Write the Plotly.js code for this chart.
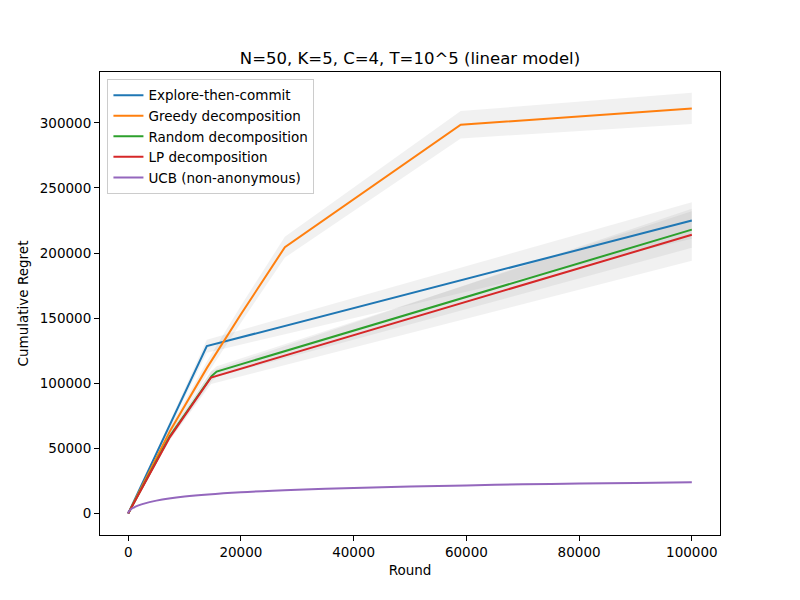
<!DOCTYPE html>
<html>
<head>
<meta charset="utf-8">
<script src="https://cdn.plot.ly/plotly-3.0.1.min.js"></script>
<style>
  body { margin: 0; background: #fff; }
  #chart { width: 800px; height: 600px; }
</style>
</head>
<body>
<div id="chart"></div>
<script>
// series: rounds, mean regret, half-width of the grey band
const etcX = [0, 13950, 100000];
const etcY = [0, 128500, 225000];
const etcBand = [0, 5000, 14000];

const greedyX = [0, 7500, 14000, 20000, 27800, 59000, 100000];
const greedyY = [0, 64000, 112000, 153000, 204500, 298500, 311000];
const greedyBand = [0, 3000, 5000, 6500, 8000, 10500, 12000];

const randomX = [0, 7400, 14800, 15700, 100000];
const randomY = [0, 59500, 105500, 109000, 218000];
const randomBand = [0, 2500, 4000, 4000, 14000];

const lpX = [0, 7400, 14700, 100000];
const lpY = [0, 58700, 104400, 214000];
const lpBand = [0, 2500, 5000, 20000];

const ucbX = [0, 100, 500, 1000, 1500, 2500, 5000, 10000, 20000, 30000, 40000, 50000, 60000, 70000, 80000, 90000, 100000];
const ucbY = [0, 1500, 3300, 4600, 5700, 7200, 9900, 13000, 16300, 18200, 19600, 20700, 21600, 22400, 23000, 23500, 24000];
const ucbBand = [0, 80, 150, 200, 220, 250, 300, 350, 400, 400, 450, 450, 500, 500, 500, 500, 500];

const names = ["Explore-then-commit", "Greedy decomposition", "Random decomposition",
               "LP decomposition", "UCB (non-anonymous)"];
const colors = ["#1f77b4", "#ff7f0e", "#2ca02c", "#d62728", "#9467bd"];
const series = [
  [etcX, etcY, etcBand],
  [greedyX, greedyY, greedyBand],
  [randomX, randomY, randomBand],
  [lpX, lpY, lpBand],
  [ucbX, ucbY, ucbBand],
];

const traces = [];
// grey bands first
series.forEach(([xs, ys, hw]) => {
  const upper = ys.map((v, i) => v + hw[i]);
  const lower = ys.map((v, i) => v - hw[i]).reverse();
  traces.push({
    x: xs.concat(xs.slice().reverse()),
    y: upper.concat(lower),
    type: "scatter",
    mode: "lines",
    fill: "toself",
    fillcolor: "rgba(128,128,128,0.11)",
    line: { width: 0 },
    hoverinfo: "skip",
    showlegend: false,
  });
});
series.forEach(([xs, ys], i) => {
  traces.push({
    x: xs,
    y: ys,
    type: "scatter",
    mode: "lines",
    name: names[i],
    line: i === 4
      ? { color: colors[i], width: 2, shape: "spline", smoothing: 0.8 }
      : { color: colors[i], width: 2 },
  });
});

const axisCommon = {
  showgrid: false,
  zeroline: false,
  showline: true,
  linecolor: "#000",
  linewidth: 1,
  mirror: true,
  ticks: "outside",
  ticklen: 5,
  tickcolor: "#000",
  tickfont: { size: 13.5, color: "#000" },
};

const layout = {
  width: 800,
  height: 600,
  margin: { l: 100, r: 80, t: 72, b: 65 },
  paper_bgcolor: "#fff",
  plot_bgcolor: "#fff",
  font: { family: "DejaVu Sans", color: "#000" },
  title: {
    text: "N=50, K=5, C=4, T=10^5 (linear model)",
    font: { size: 16.5 },
    x: 0.5125,
    xanchor: "center",
    y: 0.903,
    yanchor: "middle",
  },
  xaxis: Object.assign({}, axisCommon, {
    range: [-5000, 105000],
    tickvals: [0, 20000, 40000, 60000, 80000, 100000],
    ticktext: ["0", "20000", "40000", "60000", "80000", "100000"],
    title: { text: "Round", font: { size: 13.5 }, standoff: 6 },
  }),
  yaxis: Object.assign({}, axisCommon, {
    range: [-16500, 339000],
    tickvals: [0, 50000, 100000, 150000, 200000, 250000, 300000],
    ticktext: ["0", "50000", "100000", "150000", "200000", "250000", "300000"],
    title: { text: "Cumulative Regret", font: { size: 13.5 }, standoff: 8 },
  }),
  legend: {
    x: 0.012,
    y: 0.985,
    xanchor: "left",
    yanchor: "top",
    bgcolor: "rgba(255,255,255,0.8)",
    bordercolor: "#ccc",
    borderwidth: 1,
    font: { size: 13.5 },
    tracegroupgap: 0,
    itemwidth: 30,
  },
};

Plotly.newPlot("chart", traces, layout, { displayModeBar: false, staticPlot: true });
</script>
</body>
</html>
